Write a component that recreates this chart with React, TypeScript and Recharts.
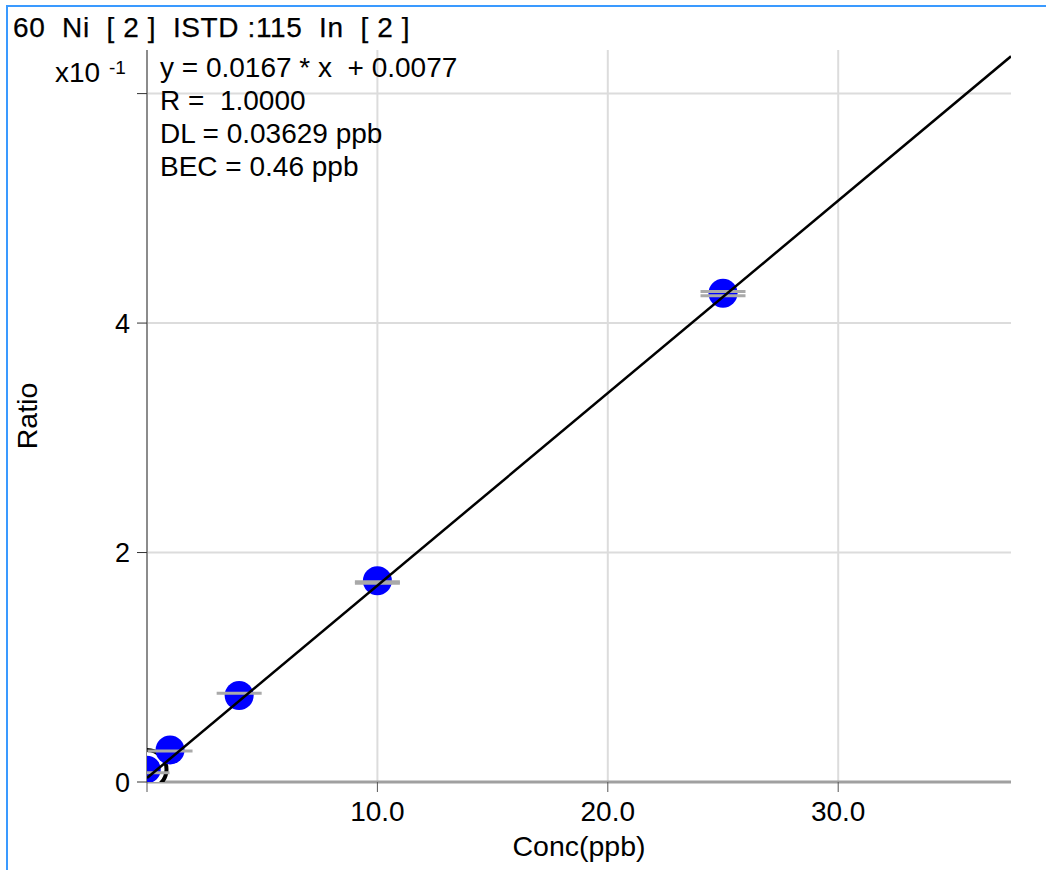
import React from "react";
import { CartesianGrid, ComposedChart, Label, Line, Scatter, XAxis, YAxis } from "recharts";

const FONT = "'Liberation Sans', Arial, Helvetica, sans-serif";

const xTicks = [0, 10, 20, 30];
const yTicks = [0, 2, 4, 6];

// standards: concentration (ppb) and ratio (x10^-1)
const stdConc = [0, 1, 4, 10, 25];
const stdRatio = [0.109, 0.279, 0.754, 1.755, 4.26];

// replicate readings, drawn as grey bars
const repConc = [0, 1, 4, 10, 10, 25, 25];
const repRatio = [0.081, 0.27, 0.774, 1.745, 1.732, 4.276, 4.238];

// ends of the fitted line
const fitConc = [0, 37.5];
const fitRatio = [0.035, 6.325];

const titleText = "60  Ni  [ 2 ]  ISTD :115  In  [ 2 ]";
const fitInfo = ["y = 0.0167 * x  + 0.0077", "R =  1.0000", "DL = 0.03629 ppb", "BEC = 0.46 ppb"];

const stdPoints = stdConc.map((x, i) => ({ x, y: stdRatio[i] }));
const repPoints = repConc.map((x, i) => ({ x, y: repRatio[i] }));
const fitPoints = fitConc.map((x, i) => ({ x, y: fitRatio[i] }));

function StdDot(props: any) {
  const { cx, cy } = props;
  return <circle cx={cx} cy={cy} r={14.5} fill="#0000ff" />;
}

function SelectedDot(props: any) {
  const { cx, cy } = props;
  return (
    <g>
      <circle cx={cx} cy={cy} r={19.5} fill="#fff" stroke="#000" strokeWidth={4} />
      <circle cx={cx} cy={cy} r={14.5} fill="#0000ff" stroke="#fff" strokeWidth={1.5} />
    </g>
  );
}

function RepBar(props: any) {
  const { cx, cy } = props;
  return <line x1={cx - 22.5} x2={cx + 22.5} y1={cy} y2={cy} stroke="#a9a9a9" strokeWidth={3} />;
}

export default function App() {
  return (
    <div style={{ position: "absolute", left: 0, top: 0, width: 1046, height: 870, background: "#fff", fontFamily: FONT }}>
      <div
        style={{
          position: "absolute",
          left: 6,
          top: 5,
          width: 1040,
          height: 865,
          borderLeft: "2px solid #3a9aff",
          borderTop: "2px solid #3a9aff",
          boxSizing: "border-box",
        }}
      />
      <div style={{ position: "absolute", left: 0, top: 0 }}>
        <ComposedChart width={1046} height={870} margin={{ top: 50, right: 35, bottom: 0, left: 0 }}>
          <CartesianGrid stroke="#dcdcdc" strokeWidth={2} horizontalValues={yTicks} verticalValues={xTicks} />
          <XAxis
            type="number"
            dataKey="x"
            domain={[0, 37.5]}
            ticks={xTicks}
            interval={0}
            allowDataOverflow
            height={88}
            tickSize={10}
            tickMargin={9}
            axisLine={{ stroke: "#a0a0a0", strokeWidth: 3 }}
            tickLine={{ stroke: "#555" }}
            tick={{ fontSize: 28, fill: "#000", fontFamily: FONT }}
            tickFormatter={(v: number) => (v === 0 ? "" : v.toFixed(1))}
          >
            <Label value="Conc(ppb)" position="insideBottom" offset={14} style={{ fontSize: 28.5, fill: "#000", fontFamily: FONT }} />
          </XAxis>
          <YAxis
            type="number"
            dataKey="y"
            domain={[0, 6.38]}
            ticks={yTicks}
            interval={0}
            allowDataOverflow
            width={147}
            tickSize={10}
            tickMargin={7}
            axisLine={{ stroke: "#8c8c8c", strokeWidth: 2 }}
            tickLine={{ stroke: "#333" }}
            tick={{ fontSize: 27, fill: "#000", fontFamily: FONT }}
            tickFormatter={(v: number) => (v === 6 ? "" : String(v))}
          >
            <Label
              value="Ratio"
              angle={-90}
              position="insideLeft"
              offset={27}
              style={{ fontSize: 28.5, fill: "#000", fontFamily: FONT, textAnchor: "middle" }}
            />
          </YAxis>
          <Scatter data={stdPoints.slice(0, 1)} shape={SelectedDot} isAnimationActive={false} />
          <Scatter data={stdPoints.slice(1)} shape={StdDot} isAnimationActive={false} />
          <Scatter data={repPoints} shape={RepBar} isAnimationActive={false} />
          <Line
            data={fitPoints}
            dataKey="y"
            type="linear"
            stroke="#000"
            strokeWidth={2.5}
            dot={false}
            activeDot={false}
            isAnimationActive={false}
            zIndex={1000}
          />
        </ComposedChart>
      </div>
      <svg width={1046} height={870} style={{ position: "absolute", left: 0, top: 0, pointerEvents: "none" }}>
        <text
          x={13}
          y={37}
          fontSize={28}
          fill="#000"
          stroke="#000"
          strokeWidth={0.25}
          letterSpacing={0.6}
          fontFamily={FONT}
          style={{ whiteSpace: "pre" }}
        >
          {titleText}
        </text>
        <text x={55} y={82} fontSize={28} fill="#000" fontFamily={FONT}>
          x10
        </text>
        <text x={109} y={74} fontSize={19} fill="#000" fontFamily={FONT}>
          -1
        </text>
        {fitInfo.map((line, i) => (
          <text key={line} x={160} y={77 + i * 33} fontSize={28} fill="#000" fontFamily={FONT} style={{ whiteSpace: "pre" }}>
            {line}
          </text>
        ))}
      </svg>
    </div>
  );
}
